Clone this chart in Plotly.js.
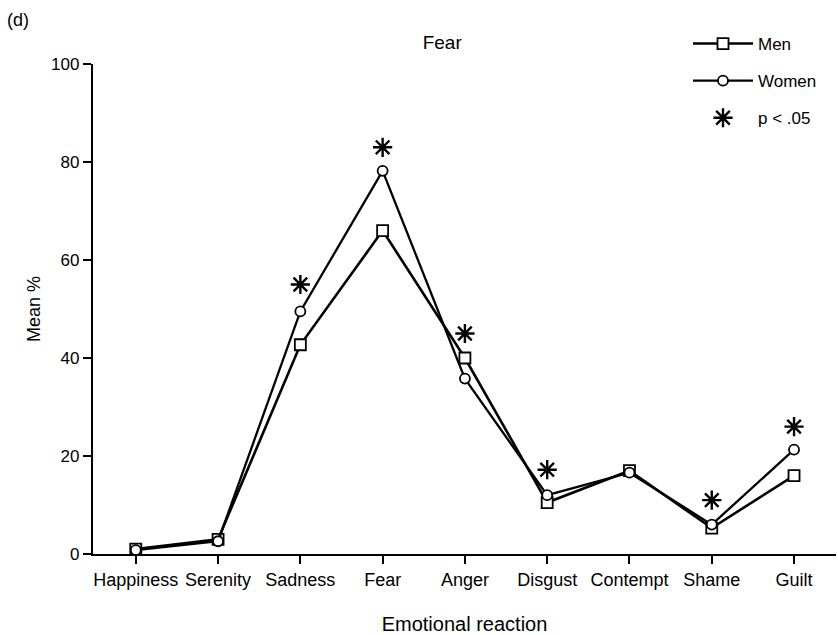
<!DOCTYPE html>
<html>
<head>
<meta charset="utf-8">
<script src="https://cdn.plot.ly/plotly-3.0.1.min.js"></script>
<style>html,body{margin:0;padding:0;background:#fff;}#chart{width:838px;height:635px;}</style>
</head>
<body>
<div id="chart"></div>
<script>
const categories = ["Happiness","Serenity","Sadness","Fear","Anger","Disgust","Contempt","Shame","Guilt"];
const menValues   = [1.0, 3.0, 42.7, 66.0, 40.0, 10.5, 17.0, 5.3, 16.0];
const womenValues = [0.8, 2.6, 49.5, 78.2, 35.8, 12.0, 16.6, 6.0, 21.3];
const sigCategories = ["Sadness","Fear","Anger","Disgust","Shame","Guilt"];
const sigValues     = [55.0, 83.0, 45.0, 17.2, 11.0, 26.0];
const yTickValues = [0, 20, 40, 60, 80, 100];

const font = "Liberation Sans, Arial, sans-serif";

const traces = [
  {
    x: categories, y: menValues, name: "Men", type: "scatter", mode: "lines+markers", legendgroup: "g1",
    line: {color: "#000", width: 2.6},
    marker: {symbol: "square", size: 11, color: "#fff", line: {color: "#000", width: 1.8}}
  },
  {
    x: categories, y: womenValues, name: "Women", type: "scatter", mode: "lines+markers", legendgroup: "g2",
    line: {color: "#000", width: 2.3},
    marker: {symbol: "circle", size: 10, color: "#fff", line: {color: "#000", width: 1.8}}
  },
  {
    x: sigCategories, y: sigValues, name: "p < .05", type: "scatter", mode: "markers", legendgroup: "g3",
    marker: {symbol: "asterisk-open", size: 16, color: "#000", line: {color: "#000", width: 2.4}}
  }
];

const layout = {
  width: 838, height: 635,
  paper_bgcolor: "#fff", plot_bgcolor: "#fff",
  margin: {l: 93, r: 2, t: 64, b: 81, autoexpand: false},
  font: {family: font, color: "#000", size: 17},
  showlegend: true,
  title: {text: "Fear", font: {family: font, size: 19, color: "#000"}, x: 0.47, xref: "paper", xanchor: "center", y: 1 - 42/635, yref: "container", yanchor: "middle"},
  legend: {
    xref: "container", yref: "container",
    x: 688/838, xanchor: "left", y: 1 - 26/635, yanchor: "top",
    font: {family: font, size: 17, color: "#000"},
    bgcolor: "rgba(0,0,0,0)", itemwidth: 60, tracegroupgap: 12
  },
  xaxis: {
    type: "category", categoryorder: "array", categoryarray: categories,
    range: [-0.52, 8.51], tickangle: 0,
    showline: true, linecolor: "#000", linewidth: 2.2,
    ticks: "outside", ticklen: 8, tickwidth: 2, tickcolor: "#000",
    showgrid: false, zeroline: false,
    tickfont: {family: font, size: 18, color: "#000"},
    title: {text: "Emotional reaction", font: {family: font, size: 20, color: "#000"}, standoff: 28}
  },
  yaxis: {
    range: [0, 100], tickvals: yTickValues, ticktext: yTickValues.map(String),
    showline: true, linecolor: "#000", linewidth: 2.2,
    ticks: "outside", ticklen: 8, tickwidth: 2, tickcolor: "#000",
    showgrid: false, zeroline: false,
    tickfont: {family: font, size: 17, color: "#000"},
    title: {text: "Mean %", font: {family: font, size: 18, color: "#000"}, standoff: 6}
  },
  annotations: [
    {text: "(d)", xref: "paper", yref: "paper", x: -0.118, y: 1 + (64 - 8) / 489, xanchor: "left", yanchor: "top", showarrow: false, font: {family: font, size: 18, color: "#000"}}
  ]
};

Plotly.newPlot("chart", traces, layout, {displayModeBar: false, staticPlot: true});
</script>
</body>
</html>
